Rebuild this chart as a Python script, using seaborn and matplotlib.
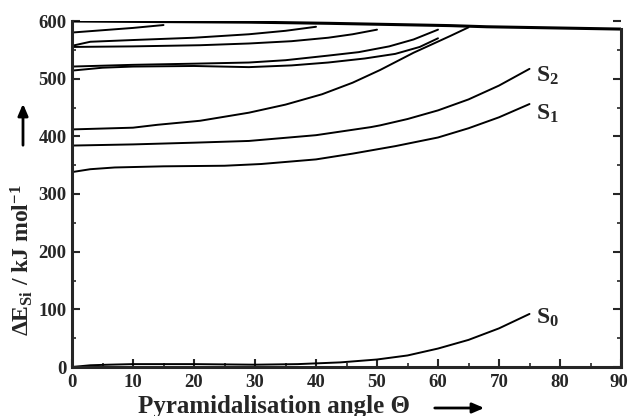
import numpy as np
import pandas as pd
import matplotlib
matplotlib.use("Agg")
import matplotlib.pyplot as plt
import seaborn as sns

# ---- data ----
top_theta = [0, 29, 42, 62, 68, 90]
top_E = [600, 598, 596, 592, 590, 586]

c2_theta = [0, 5, 10, 15]
c2_E = [580, 584, 588, 593]

c3_theta = [0, 3, 10, 20, 29, 35, 40]
c3_E = [557, 564, 567, 571, 577, 583, 590]

c4_theta = [0, 10, 21, 29, 36, 42, 46, 50]
c4_E = [555, 556, 558, 561, 565, 571, 577, 585]

c5_theta = [0, 10, 20, 29, 35, 42, 47, 52, 56, 60]
c5_E = [521, 524, 526, 528, 532, 540, 546, 556, 568, 585]

c6_theta = [0, 5, 10, 20, 29, 36, 42, 48, 53, 57, 60]
c6_E = [514, 519, 521, 522, 520, 523, 528, 535, 543, 555, 570]

c7_theta = [0, 10, 14, 21, 29, 35, 41, 46, 50.5, 56, 62, 65]
c7_E = [412, 415, 420, 427, 441, 455, 473, 493, 515, 545, 574, 589]

s2_theta = [0, 10, 20, 29, 40, 49, 50.5, 55, 60, 65, 70, 75]
s2_E = [384, 386, 389, 392, 402, 416, 419, 430, 445, 464, 488, 517]

s1_theta = [0, 3, 7, 15, 25, 31, 40, 46, 53, 60, 65, 70, 75]
s1_E = [338, 343, 346, 348, 349, 352, 360, 370, 383, 398, 414, 433, 456]

s0_theta = [0, 3, 6, 10, 20, 30, 37, 44, 50, 55, 60, 65, 70, 75]
s0_E = [0, 3, 4, 5, 5, 4, 5, 8, 13, 20, 32, 47, 67, 92]

state_labels = ["S$_2$", "S$_1$", "S$_0$"]
x_ticks = [0, 10, 20, 30, 40, 50, 60, 70, 80, 90]
y_ticks = [0, 100, 200, 300, 400, 500, 600]

# ---- styling ----
sns.set_style("ticks")
plt.rcParams["font.family"] = ["Liberation Serif", "DejaVu Serif"]
plt.rcParams["font.weight"] = "bold"
plt.rcParams["mathtext.fontset"] = "custom"
plt.rcParams["mathtext.rm"] = "Liberation Serif:bold"
plt.rcParams["mathtext.it"] = "Liberation Serif:bold"
plt.rcParams["mathtext.bf"] = "Liberation Serif:bold"

fig = plt.figure(figsize=(6.29, 4.16), dpi=100)
ax = fig.add_axes([72 / 629, 1 - 367 / 416, (621 - 72) / 629, (367 - 21) / 416])

curves = [
    (top_theta, top_E), (c2_theta, c2_E), (c3_theta, c3_E), (c4_theta, c4_E),
    (c5_theta, c5_E), (c6_theta, c6_E), (c7_theta, c7_E),
    (s2_theta, s2_E), (s1_theta, s1_E), (s0_theta, s0_E),
]
for i, (t, e) in enumerate(curves):
    df = pd.DataFrame({"theta": t, "E": e})
    sns.lineplot(data=df, x="theta", y="E", ax=ax, color="black",
                 linewidth=2.2 if i == 0 else 1.4, sort=False, estimator=None)

ax.set_xlim(0, 90)
ax.set_ylim(0, 600)
ax.set_xticks(x_ticks)
ax.set_yticks(y_ticks)
ax.set_xticks(np.arange(5, 90, 10), minor=True)
ax.set_yticks(np.arange(50, 600, 100), minor=True)
ax.tick_params(axis="both", which="major", direction="in", length=6, width=1.5,
               labelsize=13.5)
ax.tick_params(axis="both", which="minor", direction="in", length=3, width=1.2)
ax.tick_params(axis="y", right=True, which="both")
ax.tick_params(axis="y", which="major", pad=4)
ax.tick_params(axis="x", which="major", pad=5)
for lab in ax.get_xticklabels() + ax.get_yticklabels():
    lab.set_fontweight("bold")
ax.get_xticklabels()[-1].set_horizontalalignment("right")
ax.get_xticklabels()[-1].set_x(90)
import matplotlib.transforms as mtransforms
ax.get_xticklabels()[-1].set_transform(
    ax.get_xticklabels()[-1].get_transform()
    + mtransforms.ScaledTranslation(7 / 100, 0, fig.dpi_scale_trans))

ax.spines["top"].set_visible(False)
for s in ["left", "bottom", "right"]:
    ax.spines[s].set_linewidth(2.2)
ax.spines["right"].set_bounds(0, top_E[-1])

ax.set_xlabel("")
ax.set_ylabel("")

# state labels at line ends
for lab, (t, e), dy in zip(state_labels, [(s2_theta, s2_E), (s1_theta, s1_E), (s0_theta, s0_E)],
                           [-12, -17, -6]):
    ax.text(t[-1] + 1, e[-1] + dy, lab, fontsize=17, fontweight="bold",
            ha="left", va="center")

# axis titles
fig.text(274 / 629, 1 - 406 / 416, "Pyramidalisation angle \u0398", fontsize=18,
         fontweight="bold", ha="center", va="center")
fig.text(22 / 629, 1 - 260 / 416, r"$\Delta$E$_{\mathrm{Si}}$ / kJ mol$^{\mathrm{-1}}$",
         fontsize=17, fontweight="bold", rotation=90, ha="center", va="center")

# arrows
fig.patches.append(matplotlib.patches.FancyArrowPatch(
    (432 / 629, 1 - 408 / 416), (487 / 629, 1 - 408 / 416),
    transform=fig.transFigure, arrowstyle="-|>,head_length=7,head_width=3",
    color="black", linewidth=2))
fig.patches.append(matplotlib.patches.FancyArrowPatch(
    (23 / 629, 1 - 148 / 416), (23 / 629, 1 - 101 / 416),
    transform=fig.transFigure, arrowstyle="-|>,head_length=7,head_width=3",
    color="black", linewidth=2))

fig.savefig("out.png", dpi=100)
